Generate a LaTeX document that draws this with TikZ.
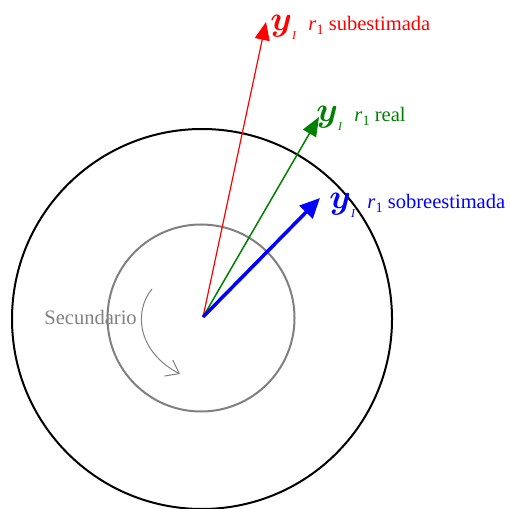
\documentclass[tikz,border=0pt]{standalone}
\usepackage{fontspec,bm}
\setmainfont{Liberation Serif}
\usetikzlibrary{arrows.meta}
\definecolor{realgreen}{RGB}{0,128,0}
\newcommand{\yvec}{{\fontsize{18}{18}\selectfont$\bm{y}$}\raisebox{-4.5bp}{\fontsize{6}{6}\selectfont\textit{I}}}
\newcommand{\rone}{\textit{r}\raisebox{-2bp}{\fontsize{7.2}{7}\selectfont 1}}

\begin{document}
\begin{tikzpicture}[x=0.5bp,y=-0.5bp,
  lbl/.style={anchor=base west,inner sep=0pt,font=\fontsize{10.3}{12}\selectfont}]
\useasboundingbox (0,0) rectangle (510,509);
\draw[line width=1bp] (202,319) circle (190);
\draw[line width=1bp,gray] (201,318) circle (93.5);
\coordinate (O) at (203,317);
\coordinate (sub) at (266,22);
\coordinate (real) at (319,117);
\coordinate (sobre) at (320,198);
\draw[red,line width=0.6bp,-{Triangle[length=9bp,width=7.5bp]}] (O) -- (sub);
\draw[realgreen,line width=0.75bp,-{Triangle[length=9.5bp,width=7.5bp]}] (O) -- (real);
\draw[blue,line width=1.75bp,-{Triangle[length=10bp,width=9bp]}] (O) -- (sobre);
\node[lbl,red] (subL) at (270,31) {\yvec\hspace{6bp}\rone\ subestimada};
\node[lbl,realgreen] (realL) at (316,122) {\yvec\hspace{6bp}\rone\ real};
\node[lbl,blue] (sobreL) at (329,208) {\yvec\hspace{6bp}\rone\ sobreestimada};
% rotacion del secundario
\node[lbl,gray] (sec) at (44,324) {Secundario};
\coordinate (rotA) at (152,289);
\coordinate (rotB) at (180,374);
\draw[gray,line width=0.5bp,-{Straight Barb[length=6bp,width=9bp]}] (rotA) .. controls (133,312) and (138,352) .. (rotB);
\end{tikzpicture}
\end{document}
